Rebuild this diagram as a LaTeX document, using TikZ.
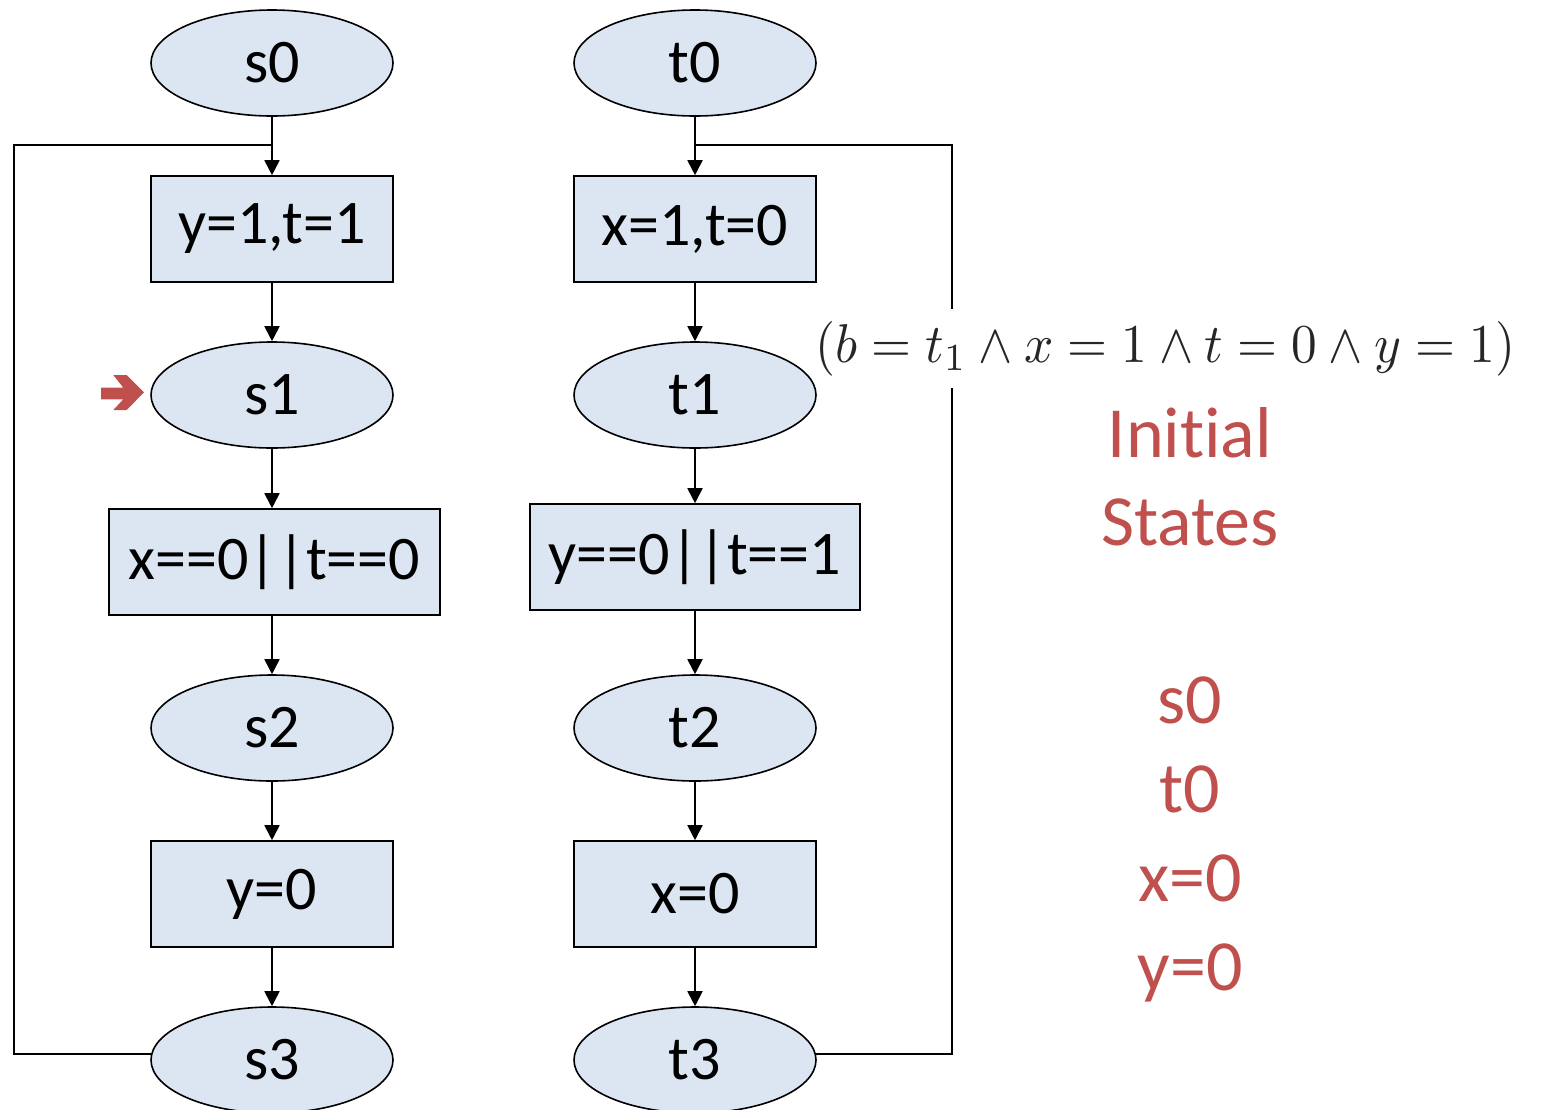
\documentclass[tikz,border=0pt]{standalone}
\usepackage{fontspec}
\setmainfont{Carlito}[RawFeature={-liga;-clig;-calt;-dlig}]
\usepackage{graphicx}
\usetikzlibrary{shapes.geometric,arrows.meta,calc}
\definecolor{nodefill}{HTML}{DCE6F2}
\definecolor{accent}{HTML}{C0504D}
\pgfdeclarelayer{background}
\pgfsetlayers{background,main}
\begin{document}
\begin{tikzpicture}[x=1pt,y=-1pt,
  every node/.style={inner sep=0pt},
  lbl/.style={font=\fontsize{62}{70}\selectfont},
  stateell/.style={lbl,ellipse,draw=black,line width=1.6pt,fill=nodefill,minimum width=242pt,minimum height=106pt},
  actbox/.style={lbl,rectangle,draw=black,line width=1.6pt,fill=nodefill,minimum width=242pt,minimum height=106pt},
  arr/.style={line width=1.8pt,-{Triangle[length=15pt,width=15pt]}},
  loopline/.style={line width=2.2pt},
  redtxt/.style={text=accent,font=\fontsize{72}{90}\selectfont,anchor=base}]
\clip (0,0) rectangle (1541,1109);
\useasboundingbox (0,0) rectangle (1541,1109);

% formula (white box breaks the right loop line)
\node[anchor=base west,fill=white,inner xsep=0pt,inner ysep=12pt,text=black!85] (formula) at (815,362)
  {\resizebox{700pt}{41pt}{$(b = t_1 \wedge x = 1 \wedge t = 0 \wedge y = 1)$}};

% left process
\node[stateell] (s0) at (272,63) {s0};
\node[actbox] (b1) at (272,229) {y=1,t=1};
\node[stateell] (s1) at (272,395) {s1};
\node[actbox,minimum width=331pt] (b2) at (274.5,562) {x==0||t==0};
\node[stateell] (s2) at (272,728) {s2};
\node[actbox] (b3) at (272,894) {y=0};
\node[stateell] (s3) at (272,1060) {s3};

% right process
\node[stateell] (t0) at (695,63) {t0};
\node[actbox] (c1) at (695,229) {x=1,t=0};
\node[stateell] (t1) at (695,395) {t1};
\node[actbox,minimum width=330pt] (c2) at (695,557) {y==0||t==1};
\node[stateell] (t2) at (695,728) {t2};
\node[actbox] (c3) at (695,894) {x=0};
\node[stateell] (t3) at (695,1060) {t3};

% arrows
\draw[arr] (s0) -- (b1);
\draw[arr] (b1) -- (s1);
\draw[arr] (s1) -- (s1 |- b2.north);
\draw[arr] (s1 |- b2.south) -- (s2);
\draw[arr] (s2) -- (b3);
\draw[arr] (b3) -- (s3);
\draw[arr] (t0) -- (c1);
\draw[arr] (c1) -- (t1);
\draw[arr] (t1) -- (c2);
\draw[arr] (c2) -- (t2);
\draw[arr] (t2) -- (c3);
\draw[arr] (c3) -- (t3);

% loop-back lines
\coordinate (jl) at (272,145);
\coordinate (jr) at (695,145);
\coordinate (lx) at (14,145);
\coordinate (rx) at (952,145);
\begin{pgfonlayer}{background}
\draw[loopline] (s3.177) -| (lx) -- (jl);
\draw[loopline] (t3.3) -| (rx) -- (jr);
\end{pgfonlayer}

% red marker arrow
\fill[accent] (101,387.7) -- (123.3,387.7) -- (113.3,375) -- (126.7,375) -- (144,392.3)
  -- (126.7,410) -- (113.3,410) -- (123.3,399.3) -- (101,399.3) -- cycle;

% red texts
\node[redtxt] (init) at (1190,457) {Initial};
\node[redtxt] (states) at (1190,545) {States};
\node[redtxt] (ls0) at (1190,723) {s0};
\node[redtxt] (lt0) at (1190,812) {t0};
\node[redtxt] (lx0) at (1190,901) {x=0};
\node[redtxt] (ly0) at (1190,990) {y=0};
\end{tikzpicture}
\end{document}
